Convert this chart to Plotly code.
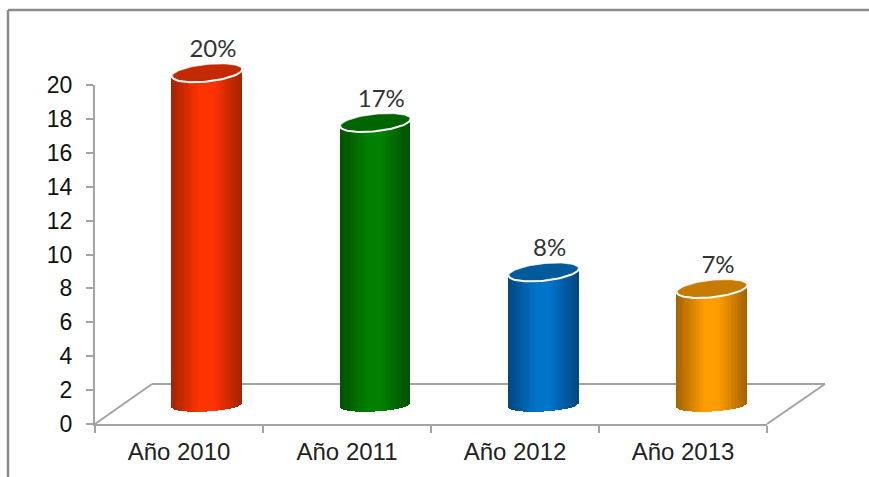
import numpy as np
import plotly.graph_objects as go

categories = ["Año 2010", "Año 2011", "Año 2012", "Año 2013"]
values = [20, 17, 8, 7]
labels = ["20%", "17%", "8%", "7%"]
bright = [(255, 51, 0), (0, 128, 0), (0, 116, 200), (255, 158, 0)]
dark = [(165, 36, 0), (0, 82, 0), (0, 72, 128), (165, 100, 0)]
tops = ["#c42a00", "#006400", "#005a9c", "#c67a00"]

W, H = 869, 477
AX_L, AX_R, AX_T, AX_B = 95, 767, 85, 424      # front axes box, px
CX0, CSTEP = 207, 168.33                        # px of first cylinder centre, spacing
Y0, YS = 405, 16.6                              # px of cylinder base, px per unit
RAD = 35
GREY = "#a3a3a3"


def px(x):
    return x / W


def py(y):
    return 1 - y / H


fig = go.Figure()

# primary axes trace (invisible): makes the category axis
fig.add_trace(go.Scatter(x=categories, y=values, mode="markers", marker=dict(opacity=0),
                         hoverinfo="skip", showlegend=False))

u = np.linspace(-1, 1, 51)
mids = (u[:-1] + u[1:]) / 2
sw = (u[1] - u[0]) * RAD / CSTEP * 1.15

for i, v in enumerate(values):
    front = np.sqrt(1 - mids**2)
    y_top = v + (3.5 * mids - 8.5 * front) / YS
    y_bot = (2 * mids - 6.5 * front) / YS
    shade = np.clip((1 - np.abs(mids)) / 0.8, 0, 1)
    cols = []
    for s in shade:
        c = [int(d + (b - d) * s) for b, d in zip(bright[i], dark[i])]
        cols.append(f"rgb({c[0]},{c[1]},{c[2]})")
    fig.add_trace(go.Bar(x=i + mids * RAD / CSTEP, y=y_top - y_bot, base=y_bot,
                         width=[sw] * len(mids), marker=dict(color=cols, line=dict(width=0)),
                         xaxis="x2", yaxis="y2", hoverinfo="skip", showlegend=False))
    t = np.linspace(0, 2 * np.pi, 90)
    fig.add_trace(go.Scatter(x=i + np.cos(t) * RAD / CSTEP,
                             y=v + (3.5 * np.cos(t) + 8.5 * np.sin(t)) / YS,
                             mode="lines", fill="toself", fillcolor=tops[i],
                             line=dict(color="rgba(255,255,255,0.75)", width=0.8),
                             xaxis="x2", yaxis="y2", hoverinfo="skip", showlegend=False))
    a = np.linspace(np.pi, 2 * np.pi, 45)
    fig.add_trace(go.Scatter(x=i + np.cos(a) * RAD / CSTEP,
                             y=v + (3.5 * np.cos(a) + 8.5 * np.sin(a)) / YS,
                             mode="lines", line=dict(color="white", width=2),
                             xaxis="x2", yaxis="y2", hoverinfo="skip", showlegend=False))

fig.add_trace(go.Scatter(x=[i + 6 / CSTEP for i in range(len(values))],
                         y=[v + 22 / YS for v in values],
                         text=labels, mode="text", textposition="middle center",
                         textfont=dict(family="Lato", size=24, color="#333333"),
                         xaxis="x2", yaxis="y2", hoverinfo="skip", showlegend=False))

floor_line = dict(color=GREY, width=2)
shapes = [
    # outer frame
    dict(type="line", xref="paper", yref="paper", x0=px(8), x1=px(8), y0=py(10), y1=py(477),
         line=dict(color="#8c8c8c", width=2.5)),
    dict(type="line", xref="paper", yref="paper", x0=px(8), x1=px(869), y0=py(10), y1=py(10),
         line=dict(color="#8c8c8c", width=2.5)),
    # floor
    dict(type="line", xref="paper", yref="paper", x0=px(AX_L), x1=px(152), y0=py(AX_B), y1=py(384),
         layer="below", line=floor_line),
    dict(type="line", xref="paper", yref="paper", x0=px(152), x1=px(825), y0=py(384), y1=py(384),
         layer="below", line=floor_line),
    dict(type="line", xref="paper", yref="paper", x0=px(825), x1=px(AX_R), y0=py(384), y1=py(AX_B),
         layer="below", line=floor_line),
]

fig.update_layout(
    width=W, height=H, margin=dict(l=0, r=0, t=0, b=0, pad=0),
    paper_bgcolor="white", plot_bgcolor="rgba(0,0,0,0)", barmode="overlay", bargap=0,
    showlegend=False, shapes=shapes,
    xaxis=dict(domain=[px(AX_L), px(AX_R)], type="category", categoryorder="array",
               categoryarray=categories, range=[-0.5, 3.5], tickson="boundaries",
               ticks="outside", ticklen=7, tickwidth=2, tickcolor=GREY, automargin=False,
               showline=True, linecolor=GREY, linewidth=2, showgrid=False, zeroline=False,
               ticklabelstandoff=5, anchor="y",
               tickfont=dict(family="Liberation Sans", size=24, color="#222222")),
    yaxis=dict(domain=[py(AX_B), py(AX_T)], range=[0, 20], dtick=2, tick0=0,
               ticks="outside", ticklen=7, tickwidth=2, tickcolor=GREY, automargin=False,
               showline=True, linecolor=GREY, linewidth=2, showgrid=False, zeroline=False,
               ticklabelstandoff=9, anchor="x",
               tickfont=dict(family="Liberation Sans", size=23, color="#111111")),
    xaxis2=dict(domain=[0, 1], range=[-CX0 / CSTEP, (W - CX0) / CSTEP], visible=False,
                anchor="y2", automargin=False),
    yaxis2=dict(domain=[0, 1], range=[(Y0 - H) / YS, Y0 / YS], visible=False,
                anchor="x2", automargin=False),
)

fig.write_html("out.html", config=dict(displayModeBar=False),
               post_script="document.body.style.margin='0';document.body.style.overflow='hidden';")
